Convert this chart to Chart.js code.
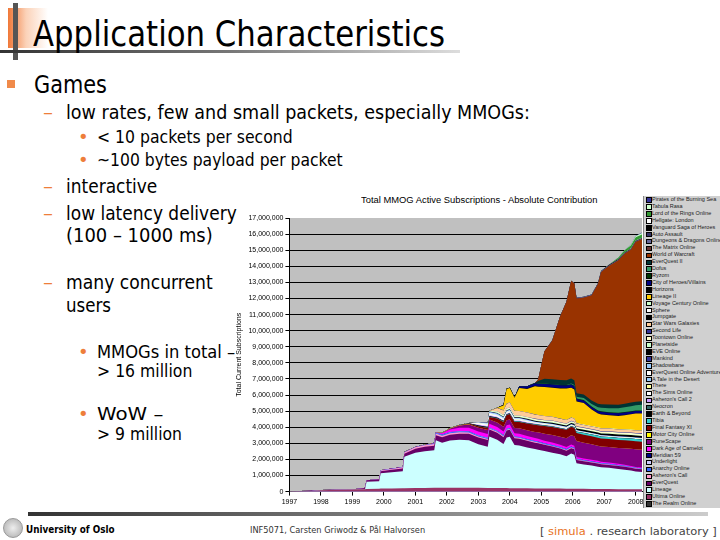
<!DOCTYPE html>
<html>
<head>
<meta charset="utf-8">
<script src="https://cdn.jsdelivr.net/npm/chart.js@4.4.1/dist/chart.umd.min.js"></script>
<style>
body { margin:0; width:720px; height:540px; overflow:hidden; background:#fff; position:relative; font-family:'DejaVu Sans', sans-serif; color:#000; }
.t { position:absolute; white-space:nowrap; line-height:1; transform-origin:0 0; }
.o { color:#ee7e3a; }
.sq { position:absolute; width:8px; height:8px; background:#f08a4a; }
#chartWrap { position:absolute; left:228px; top:188px; }
#legend { position:absolute; left:643px; top:196px; width:90px; height:312px; background:#d0d0d0; border-left:1px solid #888; overflow:hidden; font-family:'Liberation Sans', sans-serif; font-size:5.5px; color:#222; }
#legend .row { height:6.92px; line-height:6.92px; position:relative; white-space:nowrap; }
#legend .box { position:absolute; left:2px; top:1.4px; width:3.5px; height:3.5px; border:0.5px solid #000; }
#legend .lbl { position:absolute; left:8px; top:0; }
</style>
</head>
<body>
<!-- title decoration -->
<div style="position:absolute;left:8px;top:8px;width:40px;height:40px;background:linear-gradient(to right,#f07838,#fbd2b8 45%,#fff)"></div>
<div style="position:absolute;left:13px;top:3px;width:5px;height:57px;background:#555"></div>
<div style="position:absolute;left:0;top:50px;width:460px;height:3px;background:linear-gradient(to right,#333,#777 50%,#ddd)"></div>
<div class="t" style="left:33px;top:16px;font-size:35.5px" data-w="412">Application Characteristics</div>

<div class="sq" style="left:7px;top:80px"></div>
<div class="t" style="left:34px;top:73.2px;font-size:24px" data-w="73">Games</div>

<div class="t o" style="left:43px;top:102.1px;font-size:20px">–</div>
<div class="t" style="left:66px;top:102.1px;font-size:20px" data-w="464">low rates, few and small packets, especially MMOGs:</div>
<div class="t o" style="left:78px;top:128.3px;font-size:18px">•</div>
<div class="t" style="left:97px;top:128.3px;font-size:18px" data-w="196">&lt; 10 packets per second</div>
<div class="t o" style="left:78px;top:151.3px;font-size:18px">•</div>
<div class="t" style="left:97px;top:151.3px;font-size:18px" data-w="246">~100 bytes payload per packet</div>
<div class="t o" style="left:43px;top:176.1px;font-size:20px">–</div>
<div class="t" style="left:66px;top:176.1px;font-size:20px" data-w="91">interactive</div>
<div class="t o" style="left:43px;top:203.1px;font-size:20px">–</div>
<div class="t" style="left:66px;top:203.1px;font-size:20px" data-w="171">low latency delivery</div>
<div class="t" style="left:66px;top:225.1px;font-size:20px" data-w="147">(100 – 1000 ms)</div>
<div class="t o" style="left:43px;top:272.1px;font-size:20px">–</div>
<div class="t" style="left:66px;top:272.1px;font-size:20px" data-w="147">many concurrent</div>
<div class="t" style="left:66px;top:295.1px;font-size:20px" data-w="45">users</div>
<div class="t o" style="left:78px;top:342.8px;font-size:18px">•</div>
<div class="t" style="left:97px;top:342.8px;font-size:18px" data-w="138">MMOGs in total –</div>
<div class="t" style="left:97px;top:361.8px;font-size:18px" data-w="95">&gt; 16 million</div>
<div class="t o" style="left:78px;top:404.8px;font-size:18px">•</div>
<div class="t" style="left:97px;top:404.8px;font-size:18px" data-w="66">WoW –</div>
<div class="t" style="left:97px;top:424.8px;font-size:18px" data-w="85">&gt; 9 million</div>

<div class="t" style="left:361px;top:195.8px;font-size:8.5px;font-family:'Liberation Sans',sans-serif" data-w="236">Total MMOG Active Subscriptions - Absolute Contribution</div>
<div id="chartWrap"><canvas id="mmogChart" width="492" height="330"></canvas></div>
<div id="legend"></div>

<!-- footer -->
<div style="position:absolute;left:28px;top:512px;width:680px;height:4px;background:linear-gradient(to right,#333,#888 60%,#ccc)"></div>
<div style="position:absolute;left:3px;top:518px;width:18px;height:18px;border-radius:50%;border:1px solid #999;background:radial-gradient(circle,#eee,#aaa)"></div>
<div class="t" style="left:26px;top:524.5px;font-size:10px;font-weight:bold" data-w="89">University of Oslo</div>
<div class="t" style="left:250px;top:527.2px;font-size:8px;color:#333" data-w="175">INF5071, Carsten Griwodz &amp; Pål Halvorsen</div>
<div class="t" style="left:540px;top:526.5px;font-size:10px;color:#444" data-w="177">[ <span style="color:#e8731e">simula</span> . research laboratory ]</div>

<script>
// x positions in decimal years, all series in thousands of subscribers
const years = [1997.0, 1997.7, 1998.0, 1998.5, 1999.0, 1999.2, 1999.4, 1999.45, 1999.85, 1999.9,
  2000.25, 2000.6, 2000.65, 2001.0, 2001.3, 2001.6, 2001.65, 2001.85, 2002.1, 2002.4,
  2002.7, 2003.0, 2003.3, 2003.35, 2003.6, 2003.8, 2003.9, 2004.0, 2004.15, 2004.3,
  2004.55, 2004.8, 2004.9, 2005.1, 2005.35, 2005.6, 2005.8, 2005.95, 2006.05, 2006.12,
  2006.35, 2006.6, 2006.8, 2006.9, 2007.15, 2007.45, 2007.65, 2007.85, 2008.0, 2008.2];
const yTicks = [0, 1, 2, 3, 4, 5, 6, 7, 8, 9, 10, 11, 12, 13, 14, 15, 16, 17]; // millions
const xTicks = [1997, 1998, 1999, 2000, 2001, 2002, 2003, 2004, 2005, 2006, 2007, 2008];

const realmOnline = [10,10,10,10,10,10,10,10,10,10, 10,10,10,10,10,10,10,10,10,10, 10,10,10,10,10,10,10,10,10,10, 10,10,10,10,10,10,10,10,10,10, 10,10,10,10,10,10,10,10,10,10];
const ultimaOnline = [0,30,80,100,120,130,140,150,170,180, 190,200,200,210,220,225,225,230,230,230, 230,225,220,220,215,210,210,205,200,200, 195,190,190,185,180,175,170,170,165,165, 160,155,150,150,145,140,135,135,135,130];
const lineage = [0,0,0,0,0,0,0,450,470,950, 1000,1050,1950,2200,2280,2330,2950,2800,2940,2980, 2950,2700,2550,3200,3000,2730,3140,3200,2690,2660, 2540,2440,2400,2320,2230,2130,2010,2180,2120,1590, 1510,1450,1390,1350,1320,1260,1220,1160,1110,1080];
const everQuest = [0,0,0,0,0,30,80,90,110,120, 150,180,190,240,270,290,320,340,360,380, 400,420,420,430,430,430,430,430,420,420, 410,400,400,390,380,360,350,340,330,200, 200,190,190,185,180,175,175,170,170,170];
const asheronsCall = [0,0,0,0,0,0,0,0,0,50, 60,70,80,90,100,100,100,90,90,80, 80,70,70,60,60,60,50,50,50,50, 50,50,50,40,40,40,40,40,40,30, 30,30,30,30,30,25,25,20,20,20];
const anarchyOnline = [0,0,0,0,0,0,0,0,0,0, 0,0,0,0,0,30,50,60,60,60, 60,60,60,50,50,50,50,50,50,50, 50,50,50,50,50,50,50,50,50,40, 40,40,40,40,40,35,35,30,30,30];
const underlight = [0,0,0,0,0,0,0,0,0,10, 10,10,10,10,10,10,10,10,10,10, 10,10,10,10,10,10,10,0,0,0, 0,0,0,0,0,0,0,0,0,0, 0,0,0,0,0,0,0,0,0,0];
const meridian59 = [10,10,10,10,10,10,10,10,10,10, 10,10,10,10,10,10,10,10,10,10, 10,10,10,10,10,10,10,10,10,10, 10,10,10,10,10,10,10,10,10,10, 10,10,10,10,10,10,10,10,10,10];
const darkAge = [0,0,0,0,0,0,0,0,0,0, 0,0,0,0,0,0,0,80,150,200, 220,230,230,230,230,220,220,210,200,200, 190,180,170,160,150,140,130,130,120,100, 100,90,90,80,80,70,60,60,50,50];
const runeScape = [0,0,0,0,0,0,0,0,0,0, 0,0,0,0,0,0,0,0,60,150, 200,230,250,260,280,300,300,310,320,330, 350,380,400,430,470,500,550,570,600,1000, 980,960,940,940,950,980,1020,1060,1090,1100];
const motorCity = [0,0,0,0,0,0,0,0,0,0, 0,0,0,0,10,10,10,10,10,10, 10,10,0,0,0,0,0,0,0,0, 0,0,0,0,0,0,0,0,0,0, 0,0,0,0,0,0,0,0,0,0];
const finalFantasy = [0,0,0,0,0,0,0,0,0,0, 0,0,0,0,0,0,0,0,0,20, 50,80,120,150,250,300,330,350,380,400, 420,450,450,480,500,500,520,530,530,500, 500,500,500,500,500,500,500,500,500,500];
const tibia = [0,0,0,0,0,0,0,0,0,0, 0,0,0,0,0,0,0,0,0,0, 0,10,20,20,20,20,20,20,20,20, 20,30,30,30,30,30,30,30,30,80, 100,110,120,120,120,130,130,140,140,140];
const earthBeyond = [0,0,0,0,0,0,0,0,0,0, 0,0,0,0,0,0,0,0,0,0, 20,40,40,35,30,30,20,20,10,10, 10,0,0,0,0,0,0,0,0,0, 0,0,0,0,0,0,0,0,0,0];
const neocron = [0,0,0,0,0,0,0,0,0,0, 0,0,0,0,0,0,0,0,0,0, 0,10,10,10,10,10,10,10,10,10, 10,10,10,10,10,10,10,10,10,10, 10,10,10,10,10,10,10,10,10,10];
const asheronsCall2 = [0,0,0,0,0,0,0,0,0,0, 0,0,0,0,0,0,0,0,0,0, 0,50,50,50,50,50,40,40,40,40, 40,30,30,30,30,30,30,0,0,0, 0,0,0,0,0,0,0,0,0,0];
const simsOnline = [0,0,0,0,0,0,0,0,0,0, 0,0,0,0,0,0,0,0,0,0, 0,80,90,90,80,60,60,60,60,60, 60,40,40,40,40,40,40,40,40,25, 25,25,25,25,25,25,25,25,25,25];
const there = [0,0,0,0,0,0,0,0,0,0, 0,0,0,0,0,0,0,0,0,0, 0,0,0,0,0,0,10,10,10,10, 10,10,10,10,10,10,10,10,10,10, 10,10,10,10,10,10,10,10,10,10];
const taleInDesert = [0,0,0,0,0,0,0,0,0,0, 0,0,0,0,0,0,0,0,0,0, 0,5,5,5,5,5,5,5,5,5, 5,5,5,5,5,5,5,5,5,5, 5,5,5,5,5,5,5,5,5,5];
const eqAdventures = [0,0,0,0,0,0,0,0,0,0, 0,0,0,0,0,0,0,0,0,0, 0,40,40,40,40,40,40,40,40,40, 40,30,30,30,30,30,30,30,30,20, 20,20,20,20,20,20,20,20,20,20];
const shadowbane = [0,0,0,0,0,0,0,0,0,0, 0,0,0,0,0,0,0,0,0,0, 0,0,60,70,70,70,50,50,50,50, 50,30,30,30,30,30,30,30,30,20, 20,20,20,20,20,20,20,20,20,20];
const mankind = [0,0,0,0,0,0,0,0,0,0, 0,0,0,10,10,10,10,10,10,10, 10,10,10,10,10,10,10,10,10,10, 10,10,10,10,10,10,10,10,10,10, 10,10,10,10,10,10,10,10,10,10];
const eveOnline = [0,0,0,0,0,0,0,0,0,0, 0,0,0,0,0,0,0,0,0,0, 0,0,0,20,30,30,30,30,30,30, 50,50,50,50,70,70,70,70,70,100, 100,100,100,100,110,110,110,120,120,120];
const planetside = [0,0,0,0,0,0,0,0,0,0, 0,0,0,0,0,0,0,0,0,0, 0,0,0,30,60,60,60,60,60,60, 60,50,50,50,50,50,50,50,50,30, 30,30,30,30,30,30,30,30,30,30];
const toontown = [0,0,0,0,0,0,0,0,0,0, 0,0,0,0,0,0,0,0,0,0, 0,0,0,0,50,50,50,50,50,50, 50,60,60,60,60,60,60,60,60,80, 80,80,80,80,90,90,90,90,90,90];
const secondLife = [0,0,0,0,0,0,0,0,0,0, 0,0,0,0,0,0,0,0,0,0, 0,0,0,0,0,0,0,0,0,0, 0,20,20,20,20,20,20,20,20,30, 30,30,30,30,40,40,40,40,40,40];
const starWars = [0,0,0,0,0,0,0,0,0,0, 0,0,0,0,0,0,0,0,0,0, 0,0,0,0,200,280,300,300,290,280, 270,260,250,240,230,220,210,200,200,170, 160,160,160,160,160,150,150,150,150,150];
const jumpgate = [0,0,0,0,0,0,0,0,0,0, 5,5,5,5,5,5,5,5,5,5, 5,5,5,5,5,5,5,5,5,5, 5,5,5,5,5,5,5,5,5,5, 5,5,5,5,5,5,5,5,5,5];
const sphere = [0,0,0,0,0,0,0,0,0,0, 0,0,0,0,0,0,0,0,0,0, 0,5,5,5,5,5,5,5,5,5, 5,5,5,5,5,5,5,5,5,5, 5,5,5,5,5,5,5,5,5,5];
const voyageCentury = [0,0,0,0,0,0,0,0,0,0, 0,0,0,0,0,0,0,0,0,0, 0,0,0,0,0,0,0,0,0,0, 0,0,0,0,0,0,0,0,0,20, 20,20,20,20,20,20,20,20,20,20];
const lineage2 = [0,0,0,0,0,0,0,0,0,0, 0,0,0,0,0,0,0,0,0,0, 0,0,0,0,0,300,900,890,800,1415, 1460,1745,1750,1800,1800,1870,1945,1845,1800,1335, 1330,1025,850,850,800,820,880,945,1020,1050];
const horizons = [0,0,0,0,0,0,0,0,0,0, 0,0,0,0,0,0,0,0,0,0, 0,0,0,0,0,20,20,20,20,20, 20,20,20,20,20,20,20,20,20,10, 10,10,10,10,10,10,10,10,10,10];
const cityOfHeroes = [0,0,0,0,0,0,0,0,0,0, 0,0,0,0,0,0,0,0,0,0, 0,0,0,0,0,0,0,0,0,100, 150,160,160,170,180,180,180,180,180,150, 150,150,150,150,150,150,150,150,150,150];
const ryzom = [0,0,0,0,0,0,0,0,0,0, 0,0,0,0,0,0,0,0,0,0, 0,0,0,0,0,0,0,0,0,0, 0,20,20,20,20,20,20,20,20,30, 30,30,30,30,30,30,30,30,30,30];
const dofus = [0,0,0,0,0,0,0,0,0,0, 0,0,0,0,0,0,0,0,0,0, 0,0,0,0,0,0,0,0,0,0, 0,0,0,0,0,0,0,50,50,100, 120,150,200,220,250,280,300,320,330,350];
const everQuest2 = [0,0,0,0,0,0,0,0,0,0, 0,0,0,0,0,0,0,0,0,0, 0,0,0,0,0,0,0,0,0,0, 0,0,150,300,300,300,300,300,300,220, 220,220,220,220,220,220,220,220,220,220];
const worldOfWarcraft = [0,0,0,0,0,0,0,0,0,0, 0,0,0,0,0,0,0,0,0,0, 0,0,0,0,0,0,0,0,0,0, 0,0,100,1690,2405,3950,4860,6060,6000,5880, 6010,6520,7420,8205,8605,8965,9320,9500,9925,10070];
const matrixOnline = [0,0,0,0,0,0,0,0,0,0, 0,0,0,0,0,0,0,0,0,0, 0,0,0,0,0,0,0,0,0,0, 0,0,0,0,20,20,20,20,20,20, 20,20,20,20,10,10,10,10,10,10];
const ddo = [0,0,0,0,0,0,0,0,0,0, 0,0,0,0,0,0,0,0,0,0, 0,0,0,0,0,0,0,0,0,0, 0,0,0,0,0,0,0,0,0,40, 40,40,40,40,30,30,30,30,30,30];
const autoAssault = [0,0,0,0,0,0,0,0,0,0, 0,0,0,0,0,0,0,0,0,0, 0,0,0,0,0,0,0,0,0,0, 0,0,0,0,0,0,0,0,0,0, 0,10,10,10,10,10,0,0,0,0];
const vanguard = [0,0,0,0,0,0,0,0,0,0, 0,0,0,0,0,0,0,0,0,0, 0,0,0,0,0,0,0,0,0,0, 0,0,0,0,0,0,0,0,0,0, 0,0,0,0,40,40,30,30,30,30];
const hellgate = [0,0,0,0,0,0,0,0,0,0, 0,0,0,0,0,0,0,0,0,0, 0,0,0,0,0,0,0,0,0,0, 0,0,0,0,0,0,0,0,0,0, 0,0,0,0,0,0,0,20,20,20];
const lotro = [0,0,0,0,0,0,0,0,0,0, 0,0,0,0,0,0,0,0,0,0, 0,0,0,0,0,0,0,0,0,0, 0,0,0,0,0,0,0,0,0,0, 0,0,0,0,0,100,150,180,200,200];
const tabulaRasa = [0,0,0,0,0,0,0,0,0,0, 0,0,0,0,0,0,0,0,0,0, 0,0,0,0,0,0,0,0,0,0, 0,0,0,0,0,0,0,0,0,0, 0,0,0,0,0,0,0,50,80,100];
const pirates = [0,0,0,0,0,0,0,0,0,0, 0,0,0,0,0,0,0,0,0,0, 0,0,0,0,0,0,0,0,0,0, 0,0,0,0,0,0,0,0,0,0, 0,0,0,0,0,0,0,0,20,30];

// stacking order, bottom first
const series = [
  ['The Realm Online', realmOnline, '#333333'],
  ['Ultima Online', ultimaOnline, '#993366'],
  ['Lineage', lineage, '#ccffff'],
  ['EverQuest', everQuest, '#660066'],
  ["Asheron's Call", asheronsCall, '#ff99cc'],
  ['Anarchy Online', anarchyOnline, '#3366ff'],
  ['Underlight', underlight, '#ccccff'],
  ['Meridian 59', meridian59, '#000080'],
  ['Dark Age of Camelot', darkAge, '#ff00ff'],
  ['RuneScape', runeScape, '#800080'],
  ['Motor City Online', motorCity, '#ffff00'],
  ['Final Fantasy XI', finalFantasy, '#800000'],
  ['Tibia', tibia, '#33cccc'],
  ['Earth & Beyond', earthBeyond, '#000000'],
  ['Neocron', neocron, '#336666'],
  ["Asheron's Call 2", asheronsCall2, '#cc99ff'],
  ['The Sims Online', simsOnline, '#ffffff'],
  ['There', there, '#ffff99'],
  ['A Tale in the Desert', taleInDesert, '#99ccff'],
  ['EverQuest Online Adventures', eqAdventures, '#ffffff'],
  ['Shadowbane', shadowbane, '#99ccff'],
  ['Mankind', mankind, '#333399'],
  ['EVE Online', eveOnline, '#000000'],
  ['Planetside', planetside, '#ccffcc'],
  ['Toontown Online', toontown, '#ffffcc'],
  ['Second Life', secondLife, '#333399'],
  ['Star Wars Galaxies', starWars, '#ffcc99'],
  ['Jumpgate', jumpgate, '#000000'],
  ['Sphere', sphere, '#ffffff'],
  ['Voyage Century Online', voyageCentury, '#ccffcc'],
  ['Lineage II', lineage2, '#ffcc00'],
  ['Horizons', horizons, '#000000'],
  ['City of Heroes/Villains', cityOfHeroes, '#000080'],
  ['Ryzom', ryzom, '#003300'],
  ['Dofus', dofus, '#339966'],
  ['EverQuest II', everQuest2, '#003333'],
  ['World of Warcraft', worldOfWarcraft, '#993300'],
  ['The Matrix Online', matrixOnline, '#663333'],
  ['Dungeons & Dragons Online', ddo, '#666699'],
  ['Auto Assault', autoAssault, '#333366'],
  ['Vanguard Saga of Heroes', vanguard, '#000000'],
  ['Hellgate: London', hellgate, '#ffffff'],
  ['Lord of the Rings Online', lotro, '#339933'],
  ['Tabula Rasa', tabulaRasa, '#ccffcc'],
  ['Pirates of the Burning Sea', pirates, '#333399']
];

document.querySelectorAll('[data-w]').forEach(el => {
  el.style.transform = 'scaleX(' + (el.dataset.w / el.offsetWidth) + ')';
});

const plotBg = {
  id: 'plotBg',
  beforeDraw(chart) {
    const { ctx, chartArea: a } = chart;
    ctx.save();
    ctx.fillStyle = '#c0c0c0';
    ctx.fillRect(a.left, a.top, a.right - a.left, a.bottom - a.top);
    ctx.restore();
  }
};

Chart.defaults.font.family = "'Liberation Sans', Arial, sans-serif";
Chart.defaults.color = '#000';

const ctx = document.getElementById('mmogChart').getContext('2d');
new Chart(ctx, {
  type: 'line',
  data: {
    datasets: series.map(([label, vals, color]) => ({
      label: label,
      data: years.map((x, i) => ({ x: x, y: vals[i] * 1000 })),
      backgroundColor: color,
      borderColor: 'rgba(0,0,0,0)',
      borderWidth: 0,
      fill: 'origin',
      pointRadius: 0,
      tension: 0
    }))
  },
  options: {
    responsive: false,
    animation: false,
    layout: { padding: { left: 5, right: 78, top: 30, bottom: 10 } },
    plugins: { legend: { display: false }, tooltip: { enabled: false } },
    scales: {
      x: {
        type: 'linear', min: 1997, max: 2008.2,
        afterBuildTicks: s => { s.ticks = xTicks.map(v => ({ value: v })); },
        ticks: { autoSkip: false, maxRotation: 0, padding: 2, font: { size: 7 }, callback: v => String(v) },
        grid: { drawOnChartArea: false, tickLength: 4, tickColor: '#000' },
        border: { color: '#000', width: 1 }
      },
      y: {
        stacked: true, min: 0, max: 17000000,
        afterBuildTicks: s => { s.ticks = yTicks.map(v => ({ value: v * 1000000 })); },
        ticks: { padding: 2, font: { size: 7 }, callback: v => v.toLocaleString('en-US') },
        grid: { color: c => (c.tick && c.tick.value === 17000000) ? 'rgba(0,0,0,0)' : '#000', tickLength: 4, tickColor: '#000' },
        border: { color: '#000', width: 1 },
        title: { display: true, text: 'Total Current Subscriptions', font: { size: 7 }, padding: { top: 2, bottom: 3 } }
      }
    }
  },
  plugins: [plotBg]
});

const legend = document.getElementById('legend');
series.slice().reverse().forEach(([label, vals, color]) => {
  const row = document.createElement('div');
  row.className = 'row';
  row.innerHTML = '<span class="box" style="background:' + color + '"></span><span class="lbl"></span>';
  row.querySelector('.lbl').textContent = label;
  legend.appendChild(row);
});
</script>
</body>
</html>
